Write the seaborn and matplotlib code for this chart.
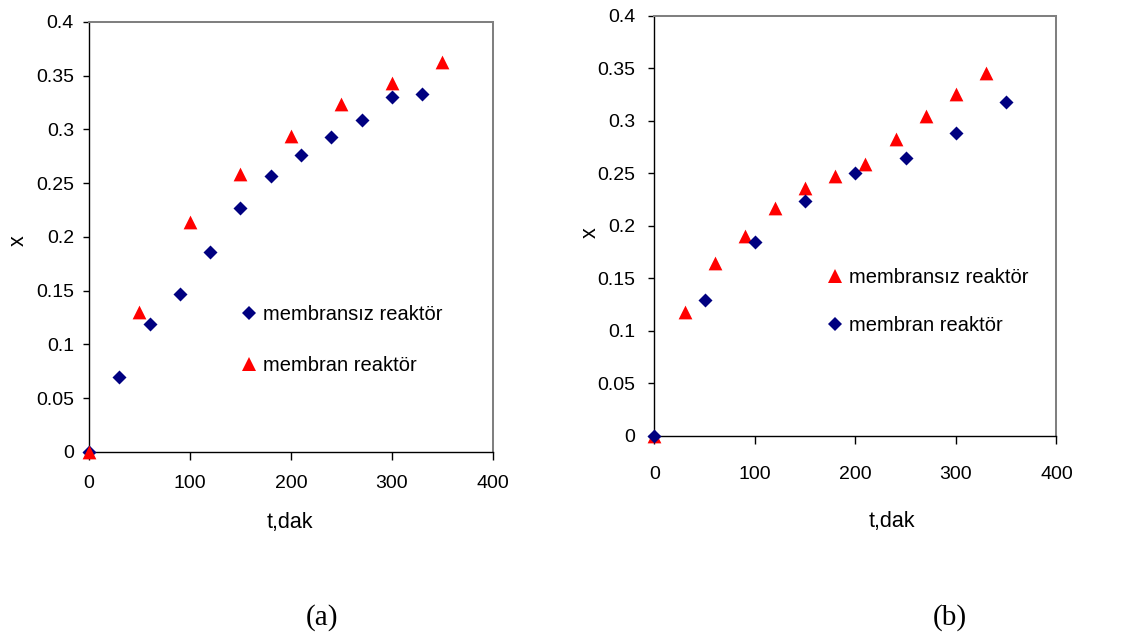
import numpy as np
import pandas as pd
import matplotlib
matplotlib.use("Agg")
import matplotlib.pyplot as plt
from matplotlib.lines import Line2D
import seaborn as sns

# ---- data: conversion x versus time t (min) ----
# panel (a)
a_t_membransiz = [0, 30, 60, 90, 120, 150, 180, 210, 240, 270, 300, 330]
a_x_membransiz = [0.0, 0.070, 0.119, 0.147, 0.186, 0.227, 0.257, 0.276, 0.293, 0.309, 0.330, 0.333]
a_t_membran = [0, 50, 100, 150, 200, 250, 300, 350]
a_x_membran = [0.0, 0.130, 0.214, 0.259, 0.294, 0.324, 0.343, 0.363]

# panel (b)
b_t_membransiz = [0, 30, 60, 90, 120, 150, 180, 210, 240, 270, 300, 330]
b_x_membransiz = [0.0, 0.118, 0.165, 0.190, 0.217, 0.236, 0.247, 0.259, 0.283, 0.305, 0.325, 0.345]
b_t_membran = [0, 50, 100, 150, 200, 250, 300, 350]
b_x_membran = [0.0, 0.129, 0.185, 0.224, 0.250, 0.265, 0.288, 0.318]

label_membransiz = "membransız reaktör"
label_membran = "membran reaktör"
x_label = "t,dak"
y_label = "x"
panel_labels = ["(a)", "(b)"]
x_ticks = [0, 100, 200, 300, 400]
y_ticks = [0, 0.05, 0.1, 0.15, 0.2, 0.25, 0.3, 0.35, 0.4]

NAVY = "#000080"
RED = "#FF0000"
S_DIAMOND = 51
S_TRIANGLE = 98

sns.set_theme(style="white")
plt.rcParams["font.family"] = ["Liberation Sans", "DejaVu Sans"]
plt.rcParams.update({
    "text.color": "black",
    "axes.labelcolor": "black",
    "xtick.color": "black",
    "ytick.color": "black",
})

fig = plt.figure(figsize=(11.48, 6.35), dpi=100)
ax_a = fig.add_axes([0.0775, 0.2882, 0.3519, 0.6772])
ax_b = fig.add_axes([0.5700, 0.3134, 0.3502, 0.6619])


def draw_panel(ax, first, second, xtick_pad, ytick_pad):
    # first / second: (t, x, label, marker, color, size)
    for t, x, lab, mk, col, s in (first, second):
        df = pd.DataFrame({"t": t, "x": x})
        sns.scatterplot(data=df, x="t", y="x", ax=ax, marker=mk, color=col,
                        s=s, linewidth=0, clip_on=False, zorder=3)
    ax.set_xlim(0, 400)
    ax.set_ylim(0, 0.4)
    ax.set_xticks(x_ticks)
    ax.set_xticklabels([f"{v:g}" for v in x_ticks])
    ax.set_yticks(y_ticks)
    ax.set_yticklabels([f"{v:g}" for v in y_ticks])
    ax.tick_params(axis="y", which="major", direction="out", length=6 * 0.72,
                   width=1, color="black", labelcolor="black", labelsize=14,
                   pad=ytick_pad, left=True)
    ax.tick_params(axis="x", which="major", direction="out", length=8 * 0.72,
                   width=1, color="black", labelcolor="black", labelsize=14,
                   pad=xtick_pad, bottom=True)
    for side in ("left", "bottom"):
        ax.spines[side].set_color("black")
        ax.spines[side].set_linewidth(1.0)
    for side in ("top", "right"):
        ax.spines[side].set_color("#808080")
        ax.spines[side].set_linewidth(1.45)
    ax.set_xlabel(x_label, fontsize=15.5, color="black")
    ax.set_ylabel(y_label, fontsize=15.5, color="black")
    handles = [
        Line2D([], [], linestyle="", marker=m, color=c,
               markersize=np.sqrt(s), markeredgewidth=0)
        for (_, _, _, m, c, s) in (first, second)
    ]
    return handles, [first[2], second[2]]


h_a, l_a = draw_panel(
    ax_a,
    (a_t_membransiz, a_x_membransiz, label_membransiz, "D", NAVY, S_DIAMOND),
    (a_t_membran, a_x_membran, label_membran, "^", RED, S_TRIANGLE),
    xtick_pad=10.5, ytick_pad=6.5,
)
ax_a.legend(h_a, l_a, loc="center left", bbox_to_anchor=(0.347, 0.261),
            frameon=False, fontsize=14.5, borderpad=0, handlelength=0.97,
            handletextpad=0.22, labelspacing=1.58, labelcolor="black")
ax_a.xaxis.set_label_coords(0.4975, -0.1387)
ax_a.yaxis.set_label_coords(-0.150, 0.4907)

h_b, l_b = draw_panel(
    ax_b,
    (b_t_membransiz, b_x_membransiz, label_membransiz, "^", RED, S_TRIANGLE),
    (b_t_membran, b_x_membran, label_membran, "D", NAVY, S_DIAMOND),
    xtick_pad=16.2, ytick_pad=9.4,
)
ax_b.legend(h_b, l_b, loc="center left", bbox_to_anchor=(0.400, 0.319),
            frameon=False, fontsize=14.5, borderpad=0, handlelength=0.97,
            handletextpad=0.22, labelspacing=1.44, labelcolor="black")
ax_b.xaxis.set_label_coords(0.591, -0.1775)
ax_b.yaxis.set_label_coords(-0.1326, 0.485)

serif = ["Liberation Serif", "DejaVu Serif"]
fig.text(321.7 / 1148, 1 - 617.5 / 635, panel_labels[0], ha="center",
         va="center", fontsize=21, family=serif, color="black")
fig.text(950 / 1148, 1 - 617.5 / 635, panel_labels[1], ha="center",
         va="center", fontsize=21, family=serif, color="black")

fig.savefig("out.png", dpi=100, facecolor="white")
